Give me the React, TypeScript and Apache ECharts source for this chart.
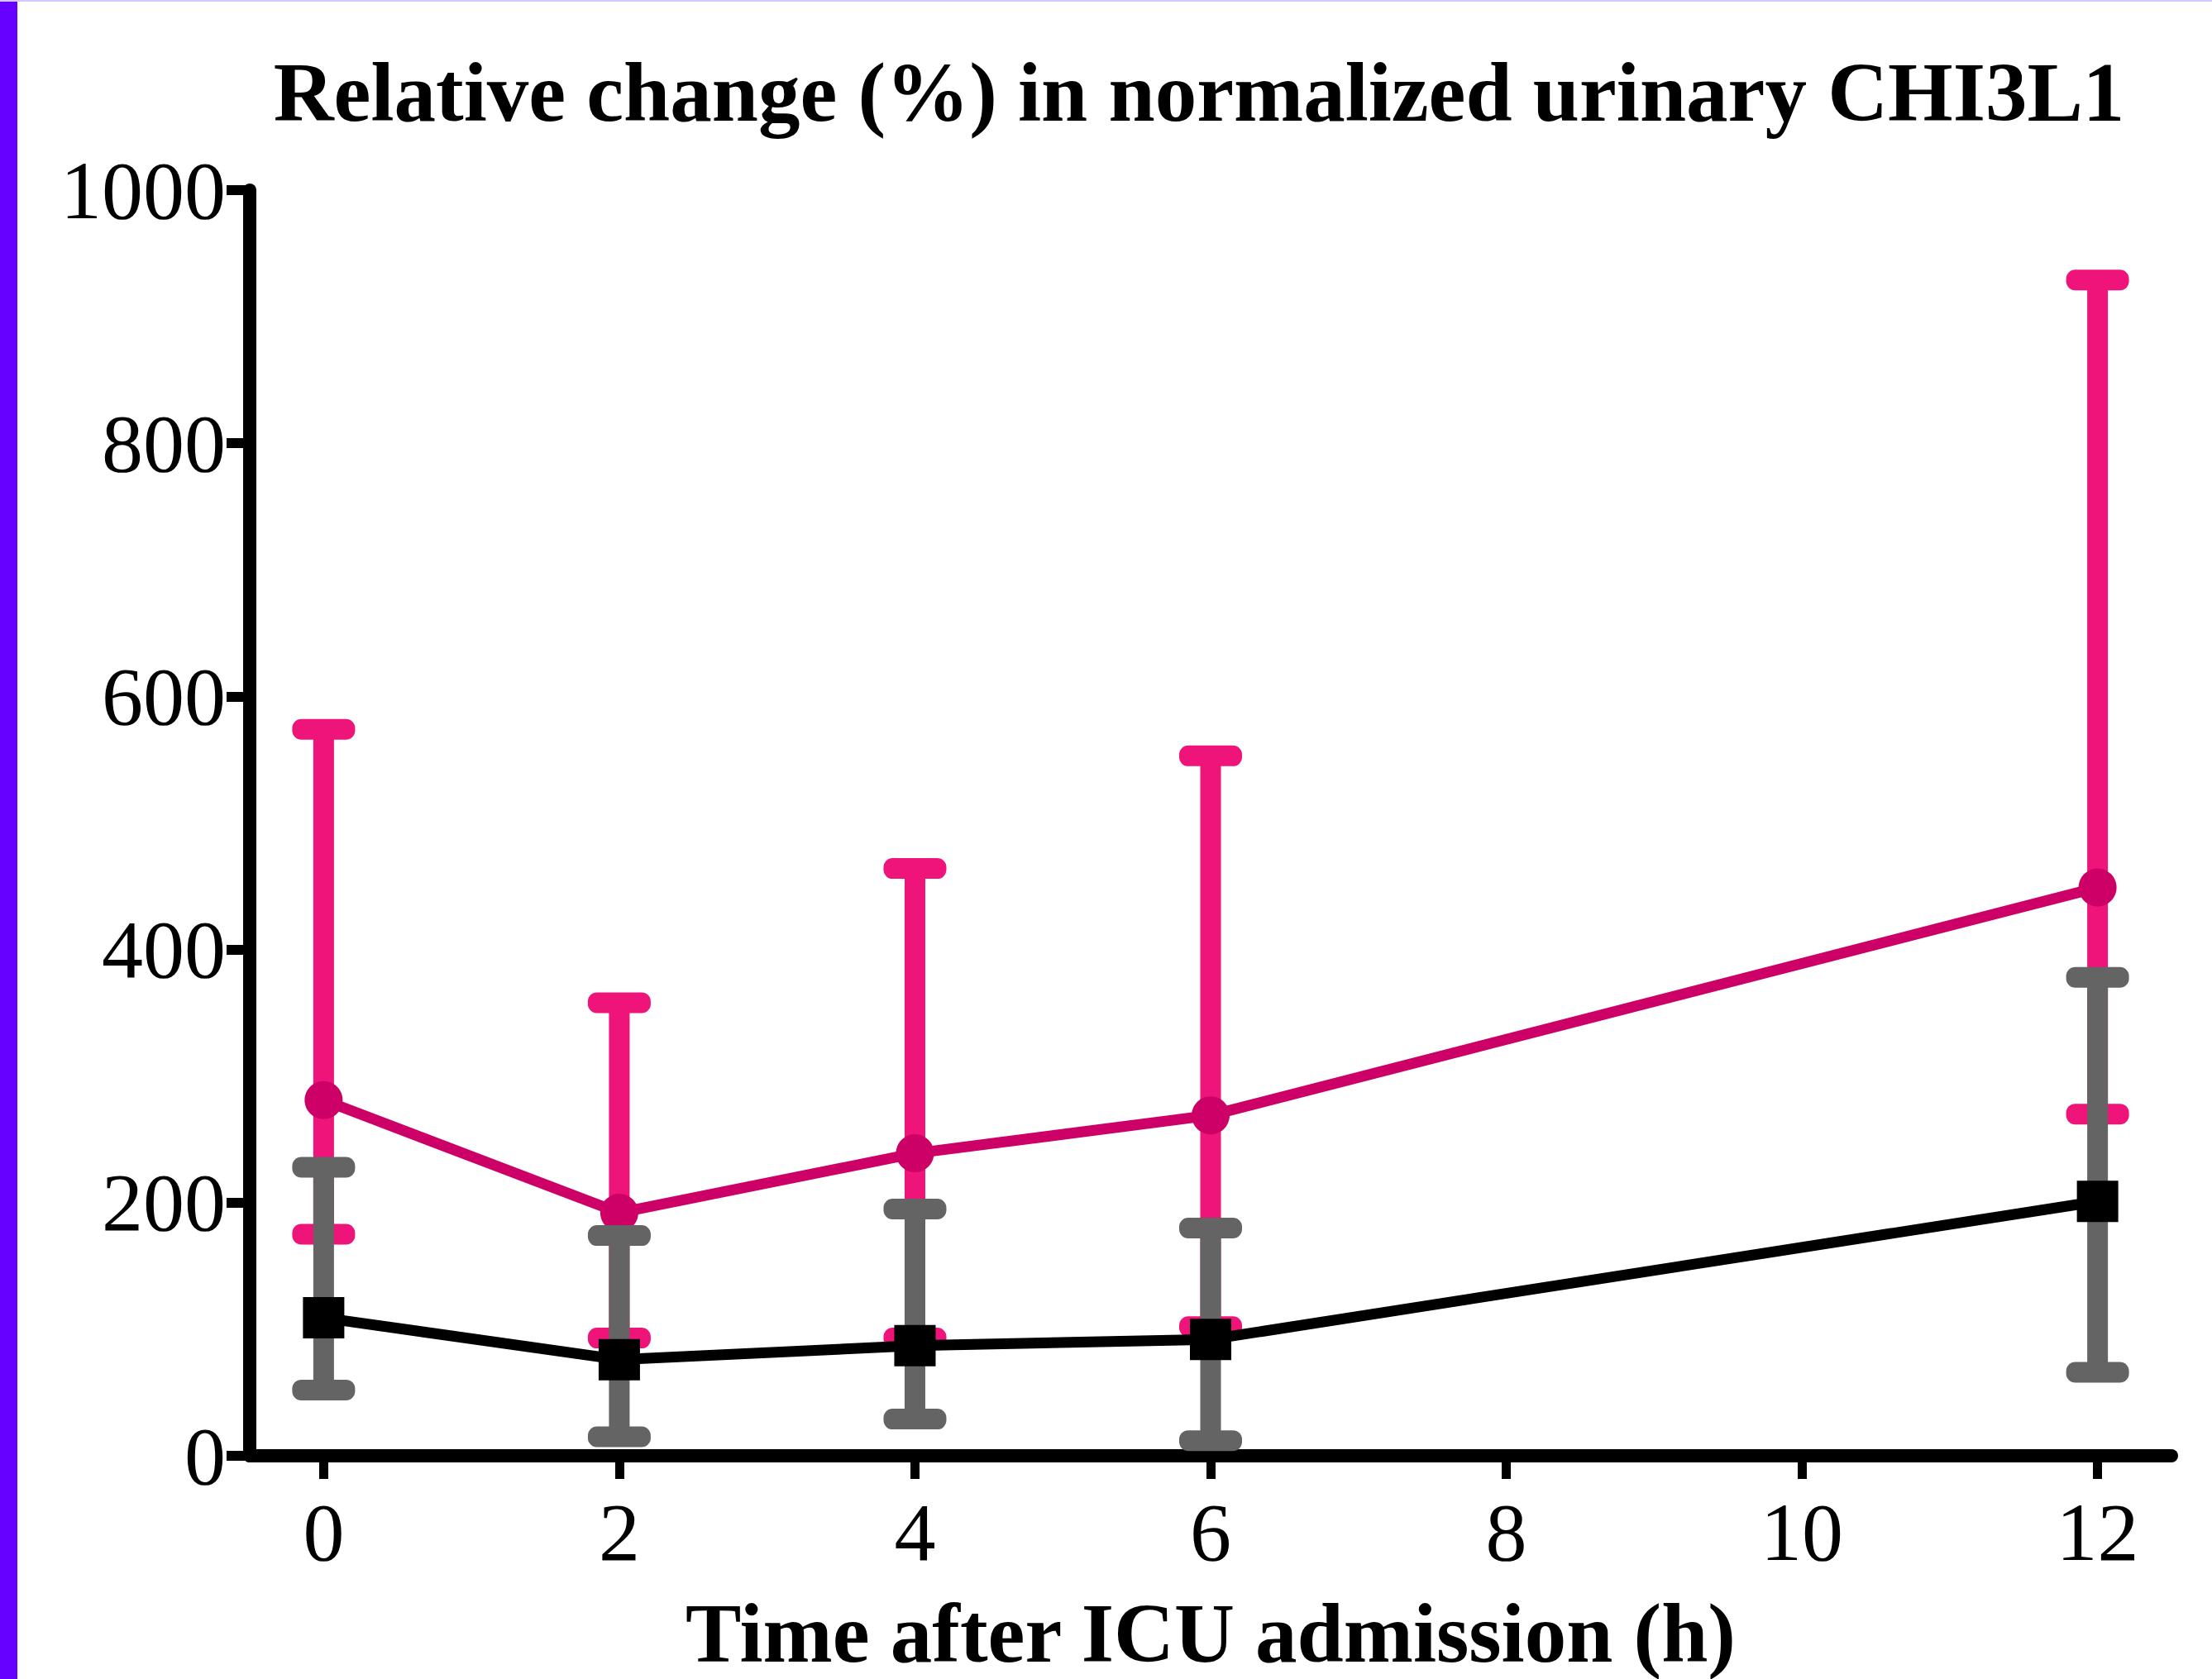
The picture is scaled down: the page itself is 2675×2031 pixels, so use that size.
import React, { useEffect, useRef } from "react";
import * as echarts from "echarts";

// Time points (h)
const times = [0, 2, 4, 6, 12];
// Pink series (circles)
const pinkMean = [281, 192, 239, 269, 449];
const pinkUpper = [574, 358, 464, 553, 929];
const pinkLower = [175, 93, 93, 102, 270];
// Black/grey series (squares)
const grayMean = [109, 76, 87, 92, 201];
const grayUpper = [228, 174, 195, 180, 378];
const grayLower = [52, 15, 29, 12, 66];
// Axis ticks
const xTicks = [0, 2, 4, 6, 8, 10, 12];

const TITLE = "Relative change (%) in normalized urinary CHI3L1";
const XNAME = "Time after ICU admission (h)";
const FONT = "'Liberation Serif', 'Times New Roman', serif";

function errRender(color: string) {
  const barW = 25;
  const capW = 76;
  const capH = 25;
  return (params: any, api: any) => {
    const x = api.value(0);
    const lo = api.value(1);
    const hi = api.value(2);
    const pLo = api.coord([x, lo]);
    const pHi = api.coord([x, hi]);
    return {
      type: "group",
      children: [
        {
          type: "rect",
          shape: { x: pHi[0] - barW / 2, y: pHi[1], width: barW, height: pLo[1] - pHi[1] },
          style: { fill: color },
        },
        {
          type: "rect",
          shape: { x: pHi[0] - capW / 2, y: pHi[1] - capH / 2, width: capW, height: capH, r: 11 },
          style: { fill: color },
        },
        {
          type: "rect",
          shape: { x: pLo[0] - capW / 2, y: pLo[1] - capH / 2, width: capW, height: capH, r: 11 },
          style: { fill: color },
        },
      ],
    };
  };
}

export default function App() {
  const ref = useRef<HTMLDivElement>(null);
  useEffect(() => {
    if (!ref.current) return;
    const chart = echarts.init(ref.current, null, { renderer: "svg" });
    const option: any = {
      animation: false,
      backgroundColor: "#ffffff",
      grid: { left: 302, right: 49, top: 230, bottom: 253, containLabel: false },
      graphic: [
        { type: "rect", shape: { x: 0, y: 0, width: 21, height: 2031 }, style: { fill: "#6600FF" }, z: 100 },
        { type: "rect", shape: { x: 0, y: 0, width: 2675, height: 2 }, style: { fill: "#D6C8FF" }, z: 100 },
        {
          type: "text",
          x: 1450,
          y: 112,
          style: {
            text: TITLE,
            font: `bold 101px ${FONT}`,
            fill: "#000",
            textAlign: "center",
            textVerticalAlign: "middle",
          },
        },
      ],
      xAxis: {
        type: "value",
        min: -0.5,
        max: 12.5,
        splitLine: { show: false },
        axisLine: { show: true, onZero: false, lineStyle: { color: "#000", width: 16 } },
        axisTick: { show: true, length: 28, lineStyle: { color: "#000", width: 11 }, customValues: xTicks },
        axisLabel: {
          show: true,
          color: "#000",
          fontFamily: FONT,
          fontSize: 100,
          margin: 42,
          customValues: xTicks,
          formatter: (v: number) => String(v),
        },
        name: XNAME,
        nameLocation: "middle",
        nameGap: 164,
        nameTextStyle: { color: "#000", fontFamily: FONT, fontSize: 101, fontWeight: "bold" },
      },
      yAxis: {
        type: "value",
        min: 0,
        max: 1000,
        interval: 200,
        splitLine: { show: false },
        axisLine: { show: true, onZero: false, lineStyle: { color: "#000", width: 16 } },
        axisTick: { show: true, length: 28, lineStyle: { color: "#000", width: 12 } },
        axisLabel: {
          color: "#000",
          fontFamily: FONT,
          fontSize: 100,
          margin: 29,
          formatter: (v: number) => String(v),
        },
      },
      series: [
        {
          type: "custom",
          name: "pinkErr",
          z: 2,
          renderItem: errRender("#EF1479"),
          encode: { x: 0, y: [1, 2] },
          data: times.map((t, i) => [t, pinkLower[i], pinkUpper[i]]),
        },
        {
          type: "line",
          name: "pink",
          z: 3,
          symbol: "circle",
          symbolSize: 46,
          lineStyle: { color: "#CC0066", width: 13 },
          itemStyle: { color: "#CC0066" },
          data: times.map((t, i) => [t, pinkMean[i]]),
        },
        {
          type: "custom",
          name: "grayErr",
          z: 4,
          renderItem: errRender("#646464"),
          encode: { x: 0, y: [1, 2] },
          data: times.map((t, i) => [t, grayLower[i], grayUpper[i]]),
        },
        {
          type: "line",
          name: "black",
          z: 5,
          symbol: "rect",
          symbolSize: 50,
          lineStyle: { color: "#000000", width: 13 },
          itemStyle: { color: "#000000" },
          data: times.map((t, i) => [t, grayMean[i]]),
        },
      ],
    };
    chart.setOption(option);
    return () => chart.dispose();
  }, []);
  return (
    <div
      ref={ref}
      style={{ position: "fixed", left: 0, top: 0, width: 2675, height: 2031, background: "#fff" }}
    />
  );
}
